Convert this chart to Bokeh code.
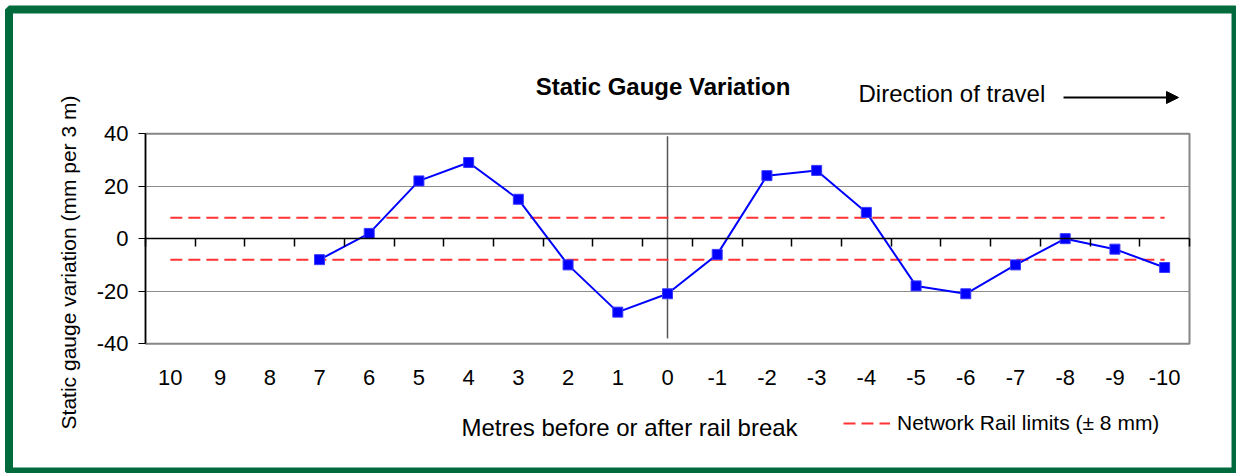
import math
from bokeh.plotting import figure
from bokeh.models import (Range1d, Label, Arrow, NormalHead, Legend, LegendItem,
                          FixedTicker, LinearAxis)
from bokeh.embed import file_html
from bokeh.resources import INLINE

# ---- data ----
categories = ["10", "9", "8", "7", "6", "5", "4", "3", "2", "1", "0",
              "-1", "-2", "-3", "-4", "-5", "-6", "-7", "-8", "-9", "-10"]
gauge_x = ["7", "6", "5", "4", "3", "2", "1", "0", "-1", "-2", "-3", "-4",
           "-5", "-6", "-7", "-8", "-9", "-10"]
gauge_y = [-8, 2, 22, 29, 15, -10, -28, -21, -6, 24, 26, 10, -18, -21, -10, 0, -4, -11]
limit = 8
y_ticks = [-40, -20, 0, 20, 40]
y_tick_labels = ["-40", "-20", "0", "20", "40"]
break_label = "0"

FONT = "Liberation Sans"

# ---- layout helpers (page pixel -> data) ----
W, H = 1236, 473
PAGE = 0
PLOT_LEFT = 145.0
PX = 1044.0 / len(categories)
Y0 = 238.15
PY = 210.0 / (max(y_ticks) - min(y_ticks))


def dx(page_x):
    return (page_x - PLOT_LEFT) / PX


def dy(page_y):
    return (Y0 - page_y) / PY


n = len(categories)
cpos = {c: i + 0.5 for i, c in enumerate(categories)}
xs = [cpos[c] for c in gauge_x]
ymin, ymax = min(y_ticks), max(y_ticks)

p = figure(x_range=Range1d(dx(PAGE), dx(PAGE + W)),
           y_range=Range1d(dy(PAGE + H), dy(PAGE)),
           width=W, height=H,
           output_backend="svg", toolbar_location=None,
           min_border=0, min_border_left=0, min_border_right=0,
           min_border_top=0, min_border_bottom=0)
p.title.visible = False
p.outline_line_color = None
p.background_fill_color = "white"
p.border_fill_color = "white"

# green frame around the whole chart
p.quad(left=[dx(8.5)], right=[dx(1235)], top=[dy(9)], bottom=[dy(471)],
       fill_color=None, line_color="#016B3E", line_width=8)

# plot area box
p.quad(left=[0], right=[n], bottom=[ymin], top=[ymax], fill_color=None,
       line_color="#868686", line_width=2)

# grid
p.xgrid.visible = False
grid = p.ygrid[0]
grid.ticker = FixedTicker(ticks=y_ticks)
grid.grid_line_color = "#8c8c8c"
grid.grid_line_width = 1
if "cross_bounds" in grid.properties():
    grid.cross_bounds = (0, n)
    grid.bounds = (ymin, ymax)
else:
    grid.visible = False
    p.segment(x0=[0] * len(y_ticks), x1=[n] * len(y_ticks), y0=y_ticks, y1=y_ticks,
              line_color="#8c8c8c", line_width=1)

# y axis at left edge of plot area
yax = p.yaxis[0]
yax.fixed_location = 0
yax.bounds = (ymin, ymax)
yax.ticker = FixedTicker(ticks=y_ticks)
yax.major_label_overrides = dict(zip(y_ticks, y_tick_labels))
yax.axis_line_color = "black"
yax.axis_line_width = 1.5
yax.major_tick_out = 7
yax.major_tick_in = 0
yax.major_tick_line_color = "black"
yax.minor_tick_line_color = None
yax.major_label_text_font = FONT
yax.major_label_text_font_size = "22px"
yax.major_label_text_color = "black"
yax.major_label_standoff = 10

# category labels along the bottom
xax = p.xaxis[0]
xax.fixed_location = ymin
xax.bounds = (0, n)
xax.ticker = FixedTicker(ticks=[cpos[c] for c in categories])
xax.major_label_overrides = {cpos[c]: c for c in categories}
xax.axis_line_color = None
xax.major_tick_line_color = None
xax.minor_tick_line_color = None
xax.major_label_text_font = FONT
xax.major_label_text_font_size = "22px"
xax.major_label_text_color = "black"
xax.major_label_standoff = 20

# category axis crossing at zero with boundary ticks
zax = LinearAxis(fixed_location=0, bounds=(0, n),
                 ticker=FixedTicker(ticks=list(range(0, n + 1))))
zax.axis_line_color = "black"
zax.axis_line_width = 1.5
zax.major_tick_out = 8
zax.major_tick_in = 0
zax.major_tick_line_color = "black"
zax.major_tick_line_width = 1.5
zax.minor_tick_line_color = None
zax.major_label_text_color = None
zax.major_label_text_font_size = "1px"
p.add_layout(zax, "below")

# vertical line at rail break
p.segment(x0=[cpos[break_label]], y0=[-38], x1=[cpos[break_label]], y1=[39],
          line_color="#555555", line_width=1.5)

# limits
lim_x = [cpos[categories[0]], cpos[categories[-1]]]
r_lim = p.line(lim_x, [limit, limit], line_color="#FF3333", line_width=2, line_dash="12 6")
p.line(lim_x, [-limit, -limit], line_color="#FF3333", line_width=2, line_dash="12 6")

# series
p.line(xs, gauge_y, line_color="#0000FF", line_width=2)
p.scatter(xs, gauge_y, marker="square", size=10, fill_color="#0000FF",
          line_color="#3a3aff", line_width=1)

# texts
p.add_layout(Label(x=dx(662.5), y=dy(86), text="Static Gauge Variation", text_font=FONT,
                   text_font_size="24px", text_font_style="bold", text_align="center",
                   text_baseline="middle", text_color="black"))
p.add_layout(Label(x=dx(858), y=dy(93), text="Direction of travel", text_font=FONT,
                   text_font_size="24px", text_align="left", text_baseline="middle",
                   text_color="black"))
p.add_layout(Arrow(end=NormalHead(size=12, fill_color="black", line_color="black"),
                   x_start=dx(1063), y_start=dy(97), x_end=dx(1178), y_end=dy(97),
                   line_color="black", line_width=2))
p.add_layout(Label(x=dx(629), y=dy(427), text="Metres before or after rail break",
                   text_font=FONT, text_font_size="24px", text_align="center",
                   text_baseline="middle", text_color="black"))
p.add_layout(Label(x=dx(68), y=dy(262), text="Static gauge variation (mm per 3 m)",
                   text_font=FONT, text_font_size="21px", text_align="center",
                   text_baseline="middle", angle=math.pi / 2, text_color="black"))

legend = Legend(items=[LegendItem(label="Network Rail limits (± 8 mm)", renderers=[r_lim])],
                location=(843, 38), orientation="horizontal")
legend.border_line_color = None
legend.background_fill_alpha = 0
legend.padding = 0
legend.margin = 0
legend.glyph_width = 47
legend.glyph_height = 20
legend.label_standoff = 7
legend.label_text_font = FONT
legend.label_text_font_size = "21px"
legend.label_text_color = "black"
p.add_layout(legend, "center")

open("out.html", "w").write(file_html(p, INLINE))
